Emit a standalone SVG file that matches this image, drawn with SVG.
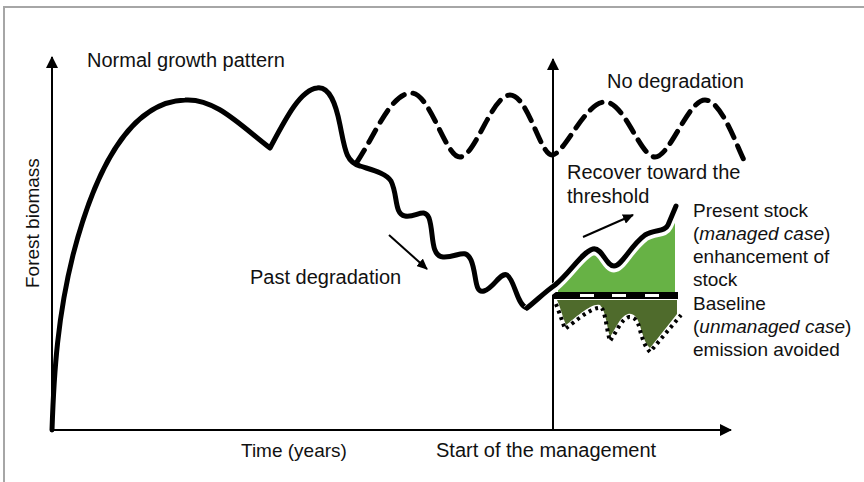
<svg xmlns="http://www.w3.org/2000/svg" width="864" height="482" viewBox="0 0 864 482">
<style>
text{font-family:"Liberation Sans",Arial,sans-serif;font-size:20px;fill:#111}
text.s{font-size:19px}
.ax{stroke:#000;stroke-width:2;fill:none}
.thick{stroke:#000;stroke-width:5;fill:none;stroke-linejoin:round;stroke-linecap:round}
.thin{stroke:#000;stroke-width:2;fill:none}
</style>
<defs>
<marker id="ah" markerWidth="12" markerHeight="12" viewBox="0 0 12 12" refX="11" refY="6" orient="auto" markerUnits="userSpaceOnUse">
<path d="M0,0 L12,6 L0,12 Z" fill="#000"/>
</marker>
<marker id="sh" markerWidth="11" markerHeight="10" viewBox="0 0 11 10" refX="10" refY="5" orient="auto" markerUnits="userSpaceOnUse">
<path d="M0,0 L11,5 L0,10 Z" fill="#000"/>
</marker>
</defs>
<rect width="864" height="482" fill="#fff"/>
<path d="M4,482 V7 H864" fill="none" stroke="#a6a6a6" stroke-width="2"/>

<g id="axes">
<line class="ax" x1="52" y1="431" x2="52" y2="57" marker-end="url(#ah)"/>
<line class="ax" x1="51" y1="430" x2="731" y2="430" marker-end="url(#ah)"/>
<line class="ax" x1="553" y1="430" x2="553" y2="59" marker-end="url(#ah)"/>
</g>

<g id="areas">
<path id="enhancement" d="M558,293 L558,288 C570,277 582,256 593,253 C602,251 606,270 614,270 C622,270 630,250 645,239 C655,233 665,236 668,229 L675,213 L675,293 Z" fill="#67b245"/>
<path id="avoided" d="M557,300 L677,300 L677,314 L650,348 C645,344 643,335 640,326 C637,316 633,313 628,314 C620,316 615,330 610,337 C607,328 606,311 600,305 C592,302 575,318 566,325 C562,315 560,306 557,300 Z" fill="#4f6b2c"/>
<path d="M556,304 C559,312 562,320 565,329 C576,321 592,306 602,308 C606,316 607,332 610,341 C616,333 621,319 629,317 C635,317 638,321 640,330 C642,338 645,347 650,352 L681,315" fill="none" stroke="#000" stroke-width="4" stroke-dasharray="3 4"/>
<rect x="553" y="292" width="125" height="7" fill="#000"/>
<g fill="#fff">
<rect x="580" y="294" width="14" height="3"/>
<rect x="612" y="294" width="14" height="3"/>
<rect x="645" y="294" width="14" height="3"/>
</g>
</g>

<g id="curves">
<path id="history" class="thick" d="M52,430 C54,370 58,315 73,255 C95,170 130,102 185,100 C215,98 240,125 270,148 C285,120 300,90 317,88 C330,86 336,105 340,125 C345,150 346,162 360,166 C372,170 386,173 391,181 C398,195 394,214 405,216 C416,218 424,207 429,218 C434,232 430,256 443,257 C457,258 465,247 471,260 C477,274 474,294 484,291 C494,288 500,272 507,275 C515,280 517,306 527,308"/>
<path id="managed-under" d="M527,310 C537,302 545,294 555,287 C570,275 582,254 593,251 C602,249 606,268 614,268 C622,268 630,248 645,237 C655,231 665,234 668,227 L677,208" fill="none" stroke="#fff" stroke-width="9" stroke-linejoin="round"/>
<path id="managed" class="thick" d="M527,308 C537,300 545,292 555,285 C570,273 582,252 593,249 C602,247 606,266 614,266 C622,266 630,246 645,235 C655,229 665,232 668,225 L676,206"/>
<path id="no-degradation" class="thick" stroke-linecap="butt" stroke-dasharray="14 9" d="M357,162 C375,135 390,95 410,93 C430,91 445,157 460,157 C475,157 492,95 510,95 C528,95 540,155 552,155 C564,155 585,102 605,102 C625,102 640,157 655,157 C670,157 688,100 705,100 C722,100 738,150 745,162"/>
</g>

<g id="connectors">
<line class="thin" x1="389" y1="235" x2="427" y2="269" marker-end="url(#sh)"/>
<line class="thin" x1="583" y1="237" x2="633" y2="215" marker-end="url(#sh)"/>
</g>

<g id="labels">
<text x="87" y="67">Normal growth pattern</text>
<text x="607" y="88">No degradation</text>
<text x="567" y="179">Recover toward the</text>
<text x="567" y="203">threshold</text>
<text x="250" y="284">Past degradation</text>
<text class="s" x="693" y="217">Present stock</text>
<text class="s" x="693" y="240">(<tspan font-style="italic">managed case</tspan>)</text>
<text class="s" x="693" y="263">enhancement of</text>
<text class="s" x="693" y="286">stock</text>
<text class="s" x="693" y="310">Baseline</text>
<text class="s" x="693" y="333">(<tspan font-style="italic">unmanaged case</tspan>)</text>
<text class="s" x="693" y="356">emission avoided</text>
<text class="s" x="241" y="457">Time (years)</text>
<text x="436" y="457">Start of the management</text>
<text class="s" transform="translate(39,288) rotate(-90)">Forest biomass</text>
</g>
</svg>
